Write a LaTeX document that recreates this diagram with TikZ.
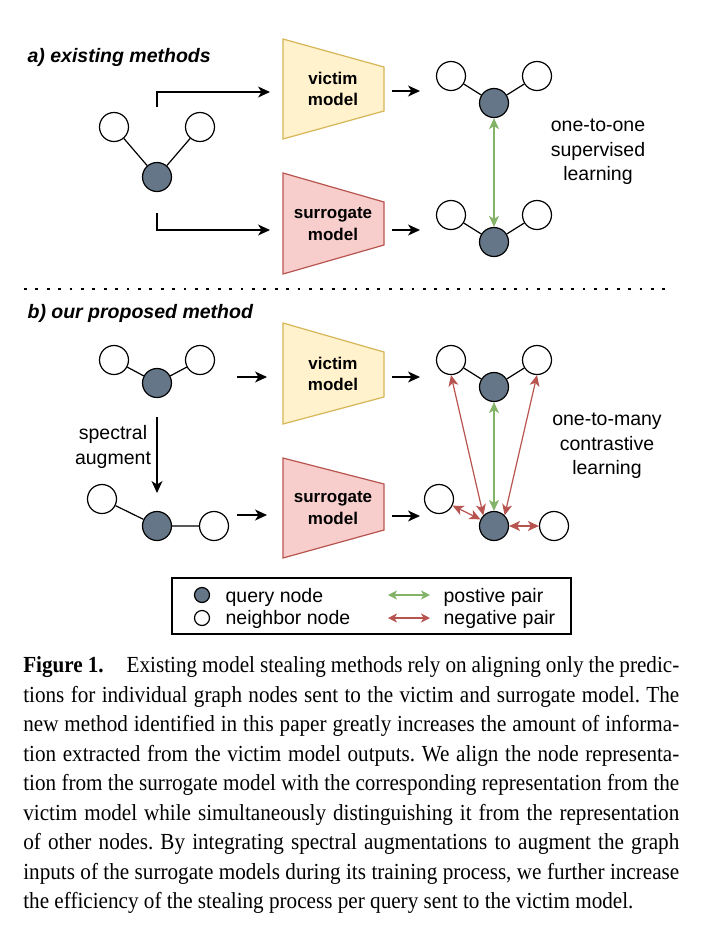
\documentclass[tikz,border=0pt]{standalone}
\usepackage{fontspec}
\setmainfont{Liberation Serif}
\setsansfont{Liberation Sans}
\newfontfamily\capfont[FakeStretch=0.92]{Liberation Serif}
\usetikzlibrary{arrows.meta,calc}
\definecolor{vicfill}{HTML}{FFF2CC}
\definecolor{vicdraw}{HTML}{D6B656}
\definecolor{surfill}{HTML}{F8CECC}
\definecolor{surdraw}{HTML}{B85450}
\definecolor{qgray}{HTML}{647687}
\definecolor{posgreen}{HTML}{82B366}
\definecolor{negred}{HTML}{B85450}
\newlength{\capw}\setlength{\capw}{656pt}
\tikzset{
  qnode/.style={circle,draw=black,fill=qgray,minimum size=29pt,inner sep=0pt},
  nnode/.style={circle,draw=black,fill=white,minimum size=29pt,inner sep=0pt},
  lbl/.style={font=\sffamily\fontsize{19.5}{24.5}\selectfont,align=center,inner sep=0pt},
  mlbl/.style={font=\sffamily\bfseries\fontsize{17}{21.5}\selectfont,align=center,inner sep=0pt},
  ttl/.style={font=\sffamily\bfseries\itshape\fontsize{19.5}{24}\selectfont,anchor=base west,inner sep=0pt},
  leg/.style={font=\sffamily\fontsize{19.5}{24}\selectfont,anchor=base west,inner sep=0pt},
  posarr/.style={<->,draw=posgreen,>={Stealth[length=11pt,width=10pt,inset=3pt]}},
  negarr/.style={<->,draw=negred,>={Stealth[length=11pt,width=10pt,inset=3pt]}}
}
\begin{document}
\begin{tikzpicture}[x=1pt,y=-1pt,line width=1.2pt,>={Stealth[length=12pt,width=11pt,inset=3.5pt]}]
\useasboundingbox (0,0) rectangle (706,930);
% a) existing methods
\node[ttl] (ta) at (27,62) {a) existing methods};
\node[nnode] (an1) at (114,127) {}; \node[nnode] (an2) at (200,127) {};
\node[qnode] (aq) at (157,177) {};
\draw (an1) -- (aq) -- (an2);
\coordinate (aup) at (157,107); \coordinate (aupe) at (270,92);
\coordinate (adn) at (157,213); \coordinate (adne) at (270,230);
\draw[->] (aup) |- (aupe); \draw[->] (adn) |- (adne);
\filldraw[fill=vicfill,draw=vicdraw] (283,39) -- (384,67) -- (384,111)
  -- (283,139) -- cycle;
\node[mlbl] (avic) at (333,89) {victim\\model};
\filldraw[fill=surfill,draw=surdraw] (283,173) -- (384,202) -- (384,245)
  -- (283,274) -- cycle;
\node[mlbl] (asur) at (333,224) {surrogate\\model};
\coordinate (avo) at (392,91); \coordinate (avt) at (420,91);
\coordinate (aso) at (392,230); \coordinate (ast) at (420,230);
\draw[->] (avo) -- (avt); \draw[->] (aso) -- (ast);
\node[nnode] (avn1) at (451,76) {}; \node[nnode] (avn2) at (537,76) {};
\node[qnode] (avq) at (494,103) {};
\draw (avn1) -- (avq) -- (avn2);
\node[nnode] (asn1) at (451,215) {}; \node[nnode] (asn2) at (537,215) {};
\node[qnode] (asq) at (494,242) {};
\draw (asn1) -- (asq) -- (asn2);
\draw[posarr] (avq) -- (asq);
\node[lbl] (aone) at (598,152) {one-to-one\\supervised\\learning};
\draw[line width=2.7pt,dash pattern=on 2.7pt off 8.7pt] (24,289) -- (670,289);
% b) our proposed method
\node[ttl] (tb) at (27,318) {b) our proposed method};
\node[nnode] (bn1) at (114,360) {}; \node[nnode] (bn2) at (200,360) {};
\node[qnode] (bq) at (157,383) {};
\draw (bn1) -- (bq) -- (bn2);
\node[nnode] (cn1) at (102,499) {}; \node[nnode] (cn2) at (214,526) {};
\node[qnode] (cq) at (157,526) {};
\draw (cn1) -- (cq) -- (cn2);
\coordinate (bsp) at (157,417); \coordinate (bspe) at (157,493);
\draw[->] (bsp) -- (bspe);
\node[lbl] (bspec) at (113,447) {spectral\\augment};
\coordinate (bvi) at (237,377); \coordinate (bvie) at (267,377);
\coordinate (bsi) at (237,515); \coordinate (bsie) at (267,515);
\draw[->] (bvi) -- (bvie); \draw[->] (bsi) -- (bsie);
\filldraw[fill=vicfill,draw=vicdraw] (283,323) -- (384,352) -- (384,397)
  -- (283,424) -- cycle;
\node[mlbl] (bvic) at (333,374) {victim\\model};
\filldraw[fill=surfill,draw=surdraw] (283,458) -- (384,484) -- (384,530)
  -- (283,558) -- cycle;
\node[mlbl] (bsur) at (333,508) {surrogate\\model};
\coordinate (bvo) at (392,377); \coordinate (bvt) at (420,377);
\coordinate (bso) at (392,516); \coordinate (bst) at (420,516);
\draw[->] (bvo) -- (bvt); \draw[->] (bso) -- (bst);
\node[nnode] (bvn1) at (451,360) {}; \node[nnode] (bvn2) at (537,360) {};
\node[qnode] (bvq) at (494,387) {};
\draw (bvn1) -- (bvq) -- (bvn2);
\node[nnode] (bsn1) at (439,499) {}; \node[nnode] (bsn2) at (554,526) {};
\node[qnode] (bsq) at (494,526) {};
\draw[posarr] (bvq) -- (bsq);
\draw[negarr] (bvn1.south) -- (bsq.north west);
\draw[negarr] (bvn2.south) -- (bsq.north east);
\draw[negarr] (bsn1) -- (bsq); \draw[negarr] (bsq) -- (bsn2);
\node[lbl] (bmany) at (607,446) {one-to-many\\contrastive\\learning};
% legend
\draw (172,578) rectangle (571,634);
\node[qnode,minimum size=15pt] (lq) at (202,595) {};
\node[nnode,minimum size=15pt] (ln) at (202,618) {};
\node[leg] (lqt) at (225,602) {query node};
\node[leg] (lnt) at (225,624) {neighbor node};
\coordinate (lp1) at (388,595); \coordinate (lp2) at (430,595);
\coordinate (lm1) at (388,618); \coordinate (lm2) at (430,618);
\draw[posarr,>={Stealth[length=9pt,width=9pt,inset=2.5pt]}] (lp1) -- (lp2);
\draw[negarr,>={Stealth[length=9pt,width=9pt,inset=2.5pt]}] (lm1) -- (lm2);
\node[leg] (lpt) at (443,602) {postive pair};
\node[leg] (lmt) at (443,624) {negative pair};
% caption
\node[anchor=north west,inner sep=0pt,align=left,
  font=\capfont\fontsize{23}{29.5}\selectfont\frenchspacing] (cap) at (22.7,656) {%
\makebox[\capw][s]{\textbf{Figure 1.}\hspace{1em}Existing model stealing methods rely on aligning only the predic-}\\
\makebox[\capw][s]{tions for individual graph nodes sent to the victim and surrogate model. The}\\
\makebox[\capw][s]{new method identified in this paper greatly increases the amount of informa-}\\
\makebox[\capw][s]{tion extracted from the victim model outputs. We align the node representa-}\\
\makebox[\capw][s]{tion from the surrogate model with the corresponding representation from the}\\
\makebox[\capw][s]{victim model while simultaneously distinguishing it from the representation}\\
\makebox[\capw][s]{of other nodes. By integrating spectral augmentations to augment the graph}\\
\makebox[\capw][s]{inputs of the surrogate models during its training process, we further increase}\\
the efficiency of the stealing process per query sent to the victim model.};
\end{tikzpicture}
\end{document}
